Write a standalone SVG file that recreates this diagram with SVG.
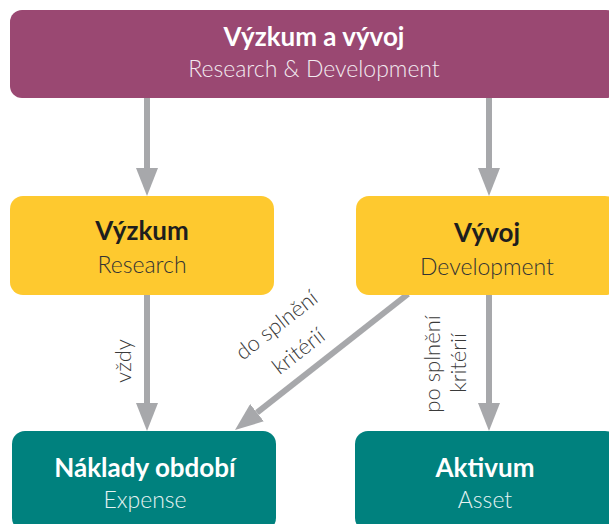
<svg xmlns="http://www.w3.org/2000/svg" width="609" height="524" viewBox="0 0 609 524">
<defs>
<marker id="ah" viewBox="0 0 28 22" refX="0" refY="11" markerWidth="28" markerHeight="22" markerUnits="userSpaceOnUse" orient="auto">
<path d="M0,0 L28,11 L0,22 Z" fill="#a7a8ab"/>
</marker>
<style>
.t{font-family:Lato,"Liberation Sans",sans-serif;text-anchor:middle}
.b{font-weight:700;font-size:26px}
.s{font-weight:300;font-size:23px}
.w{fill:#ffffff}
.ws{fill:#f2eaf0}
.tw{fill:#e6f3f2}
.d{fill:#1e1e1e}
.ds{fill:#333333}
.lab{font-family:Lato,"Liberation Sans",sans-serif;font-weight:300;font-size:22px;fill:#3a3a3a;text-anchor:middle}
.c{stroke:#a7a8ab;stroke-width:6;fill:none;marker-end:url(#ah)}
</style>
</defs>
<rect width="609" height="524" fill="#ffffff"/>
<g id="connectors">
<line class="c" x1="147" y1="97" x2="147" y2="168"/>
<line class="c" x1="489" y1="97" x2="489" y2="168"/>
<line class="c" x1="147" y1="295" x2="147" y2="403"/>
<line class="c" x1="489" y1="295" x2="489" y2="403"/>
<line class="c" x1="408" y1="294" x2="257" y2="412.7"/>
<text class="lab" transform="translate(131,361) rotate(-90)">vždy</text>
<text class="lab" transform="translate(281,331) rotate(-38)">do splnění</text>
<text class="lab" transform="translate(303,357) rotate(-38)">kritérií</text>
<text class="lab" transform="translate(440,364) rotate(-90)">po splnění</text>
<text class="lab" transform="translate(466,363) rotate(-90)">kritérií</text>
</g>
<g id="rd">
<rect x="10" y="10" width="608" height="88" rx="12" fill="#9a4872"/>
<text class="t b w" x="314" y="46">Výzkum a vývoj</text>
<text class="t s ws" x="314" y="77">Research &amp; Development</text>
</g>
<g id="vyzkum">
<rect x="10" y="196" width="264" height="99" rx="13" fill="#fec92f"/>
<text class="t b d" x="142" y="240">Výzkum</text>
<text class="t s ds" x="142" y="273">Research</text>
</g>
<g id="vyvoj">
<rect x="356" y="196" width="262" height="99" rx="13" fill="#fec92f"/>
<text class="t b d" x="487" y="242">Vývoj</text>
<text class="t s ds" x="487" y="275">Development</text>
</g>
<g id="naklady">
<rect x="12" y="431" width="264" height="100" rx="13" fill="#00817e"/>
<text class="t b w" x="145" y="477">Náklady období</text>
<text class="t s tw" x="145" y="508">Expense</text>
</g>
<g id="aktivum">
<rect x="355" y="431" width="263" height="100" rx="13" fill="#00817e"/>
<text class="t b w" x="485" y="477">Aktivum</text>
<text class="t s tw" x="485" y="508">Asset</text>
</g>
</svg>
